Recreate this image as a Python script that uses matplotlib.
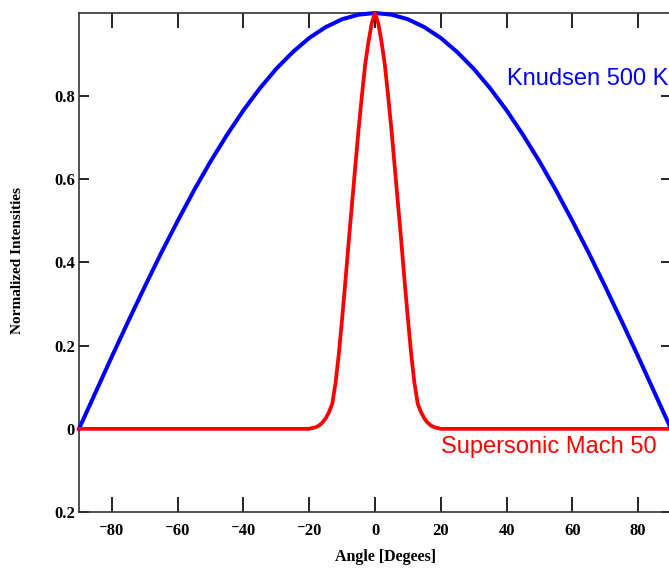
import numpy as np
import matplotlib
matplotlib.use('Agg')
import matplotlib.pyplot as plt

# Knudsen (cosine-like) distribution, sampled every 5 degrees
angle_knudsen = np.arange(-90, 91, 5)
half_knudsen = [1.0, 0.996, 0.985, 0.966, 0.94, 0.906, 0.866, 0.819, 0.766, 0.707,
                0.643, 0.574, 0.50, 0.423, 0.342, 0.259, 0.174, 0.087, 0.0]
int_knudsen = half_knudsen[:0:-1] + half_knudsen

# Supersonic Mach 50 beam, sampled every degree near the peak
angle_mach = np.concatenate(([-90], np.arange(-20, 21, 1), [90]))
half_mach = [1.0, 0.975, 0.93, 0.875, 0.80, 0.72, 0.63, 0.54, 0.45, 0.355, 0.265,
             0.18, 0.11, 0.06, 0.04, 0.025, 0.015, 0.008, 0.004, 0.002, 0.0]
int_mach = [0.0] + half_mach[:0:-1] + half_mach + [0.0]

xticks = [-80, -60, -40, -20, 0, 20, 40, 60, 80]
xticklabels = ['\u207b80', '\u207b60', '\u207b40', '\u207b20', '0', '20', '40', '60', '80']
yticks = [-0.2, 0, 0.2, 0.4, 0.6, 0.8]
yticklabels = ['0.2', '0', '0.2', '0.4', '0.6', '0.8']

serif = ['Liberation Serif', 'DejaVu Serif']
sans = ['Liberation Sans', 'DejaVu Sans']

fig = plt.figure(figsize=(6.69, 5.72), dpi=100)
ax = fig.add_axes([79 / 669, 1 - 512 / 572, 592 / 669, 499 / 572])

ax.plot(angle_knudsen, int_knudsen, color='#0000ff', lw=2.9, clip_on=False, zorder=3)
ax.plot(angle_mach, int_mach, color='#ff0000', lw=2.7, clip_on=False, zorder=4)

ax.set_xlim(-90, 90)
ax.set_ylim(-0.2, 1.0)

ax.set_xticks(xticks)
ax.set_xticklabels(xticklabels, family=serif, weight='bold', fontsize=12)
ax.set_yticks(yticks)
ax.set_yticklabels(yticklabels, family=serif, weight='bold', fontsize=12)

ax.tick_params(axis='x', direction='in', length=11, width=1.2, top=True, pad=8)
ax.tick_params(axis='y', direction='in', length=7, width=1.2, right=True, pad=3)
for s in ax.spines.values():
    s.set_color('#333333')
    s.set_linewidth(1.2)

ax.text(40, 0.8265, 'Knudsen 500 K', color='#0000ff', family=sans, fontsize=17,
        ha='left', va='baseline', clip_on=False)
ax.text(20, -0.057, 'Supersonic Mach 50', color='#ff0000', family=sans, fontsize=17,
        ha='left', va='baseline')

fig.text(386 / 669, 1 - 557 / 572, 'Angle [Degees]', family=serif, weight='bold',
         fontsize=11.5, ha='center', va='center')
fig.text(18 / 669, 1 - 261 / 572, 'Normalized Intensities', family=serif, weight='bold',
         fontsize=11, ha='center', va='center', rotation=90)

fig.savefig('out.png', dpi=100)
